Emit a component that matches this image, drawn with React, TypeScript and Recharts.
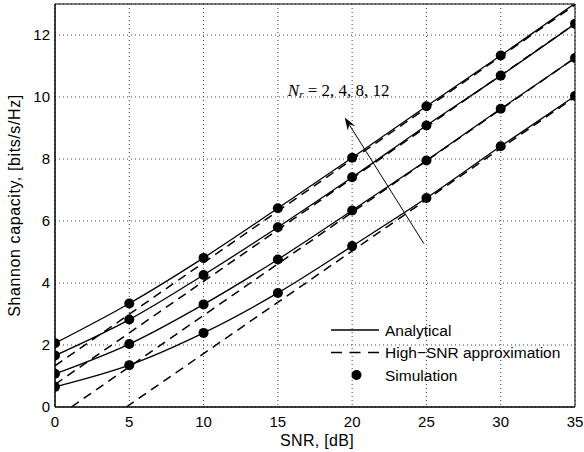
import React from 'react';
import {
  ComposedChart,
  Line,
  XAxis,
  YAxis,
  CartesianGrid,
  Legend,
  ReferenceLine,
  ReferenceDot,
} from 'recharts';

const snrTicks = [0, 5, 10, 15, 20, 25, 30, 35];
const capacityTicks = [0, 2, 4, 6, 8, 10, 12];

// analytical / simulated capacity at each SNR point (dB)
const snrDb = [0, 5, 10, 15, 20, 25, 30, 35];
const capNr2 = [0.65, 1.35, 2.39, 3.68, 5.19, 6.74, 8.41, 10.03];
const capNr4 = [1.07, 2.03, 3.31, 4.76, 6.34, 7.95, 9.62, 11.26];
const capNr8 = [1.66, 2.82, 4.26, 5.8, 7.41, 9.08, 10.69, 12.36];
const capNr12 = [2.06, 3.34, 4.81, 6.41, 8.04, 9.7, 11.34, 13.02];

// high-SNR approximation (straight lines), start and end points
const approxSnrNr2 = [4.8, 35];
const approxCapNr2 = [0, 10.0];
const approxSnrNr4 = [1.1, 35];
const approxCapNr4 = [0, 11.26];
const approxSnrNr8 = [0, 35];
const approxCapNr8 = [0.73, 12.36];
const approxSnrNr12 = [0, 35];
const approxCapNr12 = [1.33, 12.97];

const Y_MAX = 13;
const FONT = '"Liberation Sans", Arial, Helvetica, sans-serif';
const SERIF = '"Liberation Serif", "DejaVu Serif", serif';

const toPoints = (xs: number[], ys: number[]) => xs.map((x, i) => ({ x, y: ys[i] }));

const curves = [
  { id: 'nr2', cap: capNr2, aSnr: approxSnrNr2, aCap: approxCapNr2 },
  { id: 'nr4', cap: capNr4, aSnr: approxSnrNr4, aCap: approxCapNr4 },
  { id: 'nr8', cap: capNr8, aSnr: approxSnrNr8, aCap: approxCapNr8 },
  { id: 'nr12', cap: capNr12, aSnr: approxSnrNr12, aCap: approxCapNr12 },
];

function Arrow(props: any) {
  const { x1, y1, x2, y2 } = props;
  const len = Math.hypot(x2 - x1, y2 - y1) || 1;
  const ux = (x2 - x1) / len;
  const uy = (y2 - y1) / len;
  const nx = -uy;
  const ny = ux;
  const L = 13;
  const W = 9;
  const bx = x2 - ux * L;
  const by = y2 - uy * L;
  const mx = x2 - ux * L * 0.65;
  const my = y2 - uy * L * 0.65;
  const pts = [
    [x2, y2],
    [bx + nx * W / 2, by + ny * W / 2],
    [mx, my],
    [bx - nx * W / 2, by - ny * W / 2],
  ]
    .map((p) => p.join(','))
    .join(' ');
  return (
    <g>
      <line x1={x1} y1={y1} x2={mx} y2={my} stroke="#000" strokeWidth={1} />
      <polygon points={pts} fill="#000" />
    </g>
  );
}

function NrLabel(props: any) {
  const { cx, cy } = props;
  return (
    <text x={cx} y={cy} dominantBaseline="central" fontFamily={SERIF} fontSize={17} fill="#000">
      <tspan fontStyle="italic">N</tspan>
      <tspan fontStyle="italic" fontSize={11} dy={4}>r</tspan>
      <tspan dy={-4}> = 2, 4, 8, 12</tspan>
    </text>
  );
}

function LegendBox() {
  const rows = [12, 34.5, 57];
  return (
    <svg width={250} height={72} style={{ display: 'block' }}>
      <line x1={3} y1={rows[0]} x2={51} y2={rows[0]} stroke="#000" strokeWidth={1.3} />
      <line x1={3} y1={rows[1]} x2={51} y2={rows[1]} stroke="#000" strokeWidth={1.5} strokeDasharray="11 7.5" />
      <circle cx={28.5} cy={rows[2]} r={5} fill="#000" />
      {['Analytical', 'High\u2212SNR approximation', 'Simulation'].map((t, i) => (
        <text key={t} x={57} y={rows[i]} dominantBaseline="central" fontFamily={FONT} fontSize={15.5} fill="#000">
          {t}
        </text>
      ))}
    </svg>
  );
}

export default function App() {
  const tickStyle = { fontSize: 15, fill: '#000', fontFamily: FONT };
  return (
    <div style={{ position: 'absolute', left: 0, top: 0, width: 584, height: 452, background: '#fff' }}>
      <ComposedChart width={584} height={452} margin={{ top: 4, right: 9, left: 0, bottom: 0 }}>
        <CartesianGrid stroke="#444" strokeDasharray="1 3" />
        <XAxis
          dataKey="x"
          type="number"
          domain={[0, 35]}
          ticks={snrTicks}
          allowDataOverflow
          height={45}
          tickLine={false}
          tickSize={0}
          tickMargin={9}
          tick={tickStyle}
          axisLine={{ stroke: '#000', strokeWidth: 1 }}
          label={({ viewBox }: any) => (
            <text
              x={viewBox.x + viewBox.width / 2 + 2}
              y={viewBox.y + 33}
              textAnchor="middle"
              dominantBaseline="central"
              fontFamily={FONT}
              fontSize={16}
              letterSpacing={0.3}
              fill="#000"
            >
              SNR, [dB]
            </text>
          )}
        />
        <XAxis xAxisId="bin" type="number" domain={[0, 35]} ticks={snrTicks} allowDataOverflow mirror tick={false} tickSize={5} axisLine={{ stroke: '#000' }} tickLine={{ stroke: '#000' }} />
        <XAxis xAxisId="top" orientation="top" type="number" domain={[0, 35]} ticks={snrTicks} allowDataOverflow mirror tick={false} tickSize={5} axisLine={{ stroke: '#000' }} tickLine={{ stroke: '#000' }} />
        <YAxis
          type="number"
          domain={[0, Y_MAX]}
          ticks={capacityTicks}
          allowDataOverflow
          width={55}
          tickLine={false}
          tickSize={0}
          tickMargin={5}
          tick={tickStyle}
          axisLine={{ stroke: '#000', strokeWidth: 1 }}
          label={({ viewBox }: any) => {
            const x = viewBox.x + 14;
            const y = viewBox.y + viewBox.height / 2;
            return (
              <text
                x={x}
                y={y}
                transform={`rotate(-90 ${x} ${y})`}
                textAnchor="middle"
                dominantBaseline="central"
                fontFamily={FONT}
                fontSize={16}
                letterSpacing={0.6}
                fill="#000"
              >
                Shannon capacity, [bits/s/Hz]
              </text>
            );
          }}
        />
        <YAxis yAxisId="lin" type="number" domain={[0, Y_MAX]} ticks={capacityTicks} allowDataOverflow mirror tick={false} tickSize={5} axisLine={{ stroke: '#000' }} tickLine={{ stroke: '#000' }} />
        <YAxis yAxisId="right" orientation="right" type="number" domain={[0, Y_MAX]} ticks={capacityTicks} allowDataOverflow mirror tick={false} tickSize={5} axisLine={{ stroke: '#000' }} tickLine={{ stroke: '#000' }} />

        {curves.map((c) => (
          <Line
            key={`${c.id}-approx`}
            data={toPoints(c.aSnr, c.aCap)}
            dataKey="y"
            type="linear"
            stroke="#000"
            strokeWidth={1.5}
            strokeDasharray="9 6"
            dot={false}
            isAnimationActive={false}
          />
        ))}
        {curves.map((c) => (
          <Line
            key={`${c.id}-analytical`}
            data={toPoints(snrDb, c.cap)}
            dataKey="y"
            type="monotone"
            stroke="#000"
            strokeWidth={1.3}
            dot={false}
            isAnimationActive={false}
          />
        ))}
        {curves.map((c) => (
          <Line
            key={`${c.id}-sim`}
            data={toPoints(snrDb, c.cap).filter((p) => p.y <= Y_MAX)}
            dataKey="y"
            stroke="none"
            dot={{ r: 5, fill: '#000', stroke: 'none' }}
            isAnimationActive={false}
          />
        ))}

        <ReferenceLine
          segment={[
            { x: 24.83, y: 5.27 },
            { x: 19.5, y: 9.34 },
          ]}
          shape={Arrow}
        />
        <ReferenceDot x={15.67} y={10.24} r={0} shape={NrLabel} />

        <Legend
          layout="vertical"
          align="center"
          verticalAlign="middle"
          wrapperStyle={{ left: 328, top: 318, width: 250, height: 72 }}
          content={() => <LegendBox />}
        />
      </ComposedChart>
    </div>
  );
}
